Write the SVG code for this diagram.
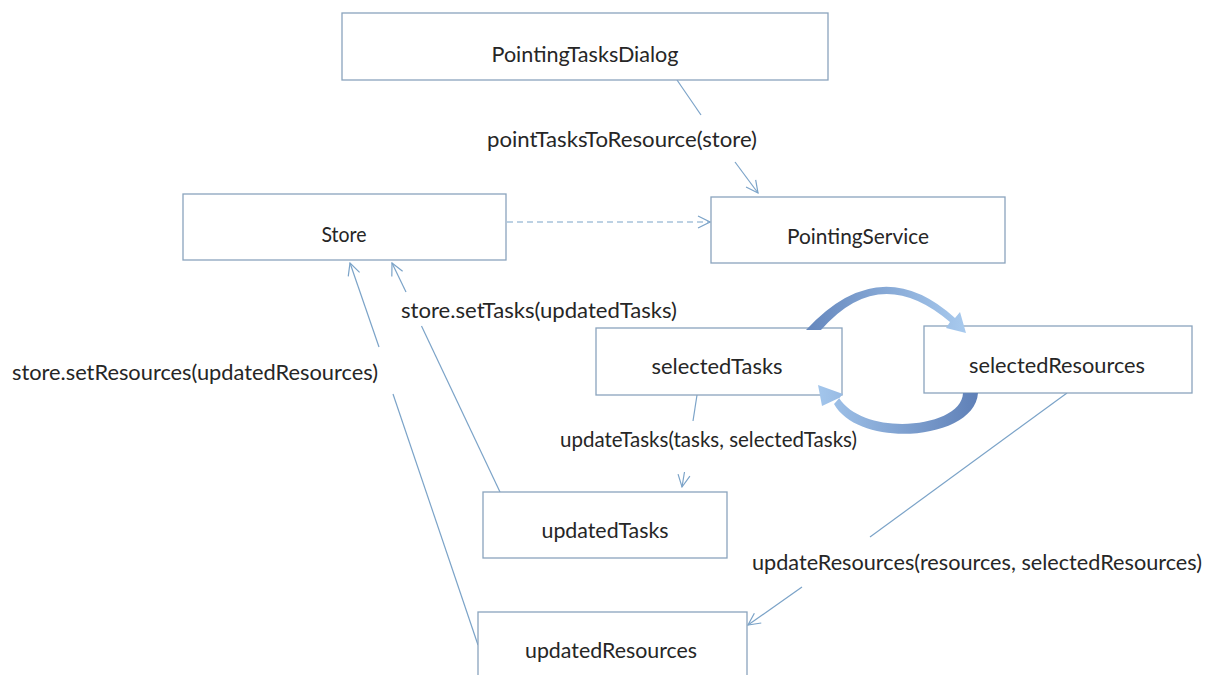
<svg xmlns="http://www.w3.org/2000/svg" width="1219" height="675" viewBox="0 0 1219 675">
<defs>
<style>
.box{fill:#ffffff;stroke:#8aa4bd;stroke-width:1.3}
.lbl{font-family:Lato,"Open Sans","Liberation Sans",sans-serif;font-size:21px;fill:#262626}
.nt{text-anchor:middle}
.con{fill:none;stroke:#7ba3c8;stroke-width:1.2}
.dash{stroke-dasharray:6 4}
</style>
<marker id="arr" markerUnits="userSpaceOnUse" markerWidth="14" markerHeight="14" viewBox="0 0 14 14" refX="13" refY="7" orient="auto">
<path d="M1,1 L13,7 L1,13" fill="none" stroke="#7ba3c8" stroke-width="1.2"/>
</marker>
<linearGradient id="gUp" x1="0" y1="0" x2="1" y2="0">
<stop offset="0" stop-color="#6587bd"/>
<stop offset="1" stop-color="#a8caee"/>
</linearGradient>
<linearGradient id="gLo" x1="1" y1="0" x2="0" y2="0">
<stop offset="0" stop-color="#5f80b7"/>
<stop offset="1" stop-color="#a3c6ec"/>
</linearGradient>
</defs>
<rect width="1219" height="675" fill="#ffffff"/>

<g id="connectors">
<line class="con" x1="677" y1="80" x2="701" y2="115"/>
<line class="con" x1="735" y1="162" x2="758" y2="193" marker-end="url(#arr)"/>
<line class="con dash" x1="507" y1="222" x2="710" y2="222" marker-end="url(#arr)"/>
<line class="con" x1="406" y1="292" x2="392" y2="263" marker-end="url(#arr)"/>
<line class="con" x1="421.5" y1="326" x2="500" y2="492"/>
<line class="con" x1="379" y1="347" x2="350" y2="263" marker-end="url(#arr)"/>
<line class="con" x1="393" y1="394" x2="478" y2="645"/>
<line class="con" x1="697" y1="395" x2="693" y2="421"/>
<line class="con" x1="684.5" y1="472" x2="682" y2="487" marker-end="url(#arr)"/>
<line class="con" x1="1067" y1="393" x2="870" y2="537"/>
<line class="con" x1="802" y1="587" x2="748" y2="625" marker-end="url(#arr)"/>
</g>

<g id="node-pointingTasksDialog">
<rect class="box" x="342" y="13" width="486" height="67"/>
<text class="lbl nt" x="585" y="62" textLength="187" lengthAdjust="spacingAndGlyphs">PointingTasksDialog</text>
</g>
<g id="node-store">
<rect class="box" x="183" y="194" width="323" height="66"/>
<text class="lbl nt" x="344" y="242" textLength="45" lengthAdjust="spacingAndGlyphs">Store</text>
</g>
<g id="node-pointingService">
<rect class="box" x="711" y="197" width="294" height="66"/>
<text class="lbl nt" x="858" y="244" textLength="142" lengthAdjust="spacingAndGlyphs">PointingService</text>
</g>
<g id="node-selectedTasks">
<rect class="box" x="596" y="328" width="246" height="67"/>
<text class="lbl nt" x="717" y="374" textLength="131" lengthAdjust="spacingAndGlyphs">selectedTasks</text>
</g>
<g id="node-selectedResources">
<rect class="box" x="924" y="326" width="268" height="67"/>
<text class="lbl nt" x="1057" y="373" textLength="176" lengthAdjust="spacingAndGlyphs">selectedResources</text>
</g>
<g id="node-updatedTasks">
<rect class="box" x="483" y="492" width="244" height="66"/>
<text class="lbl nt" x="605" y="538" textLength="127" lengthAdjust="spacingAndGlyphs">updatedTasks</text>
</g>
<g id="node-updatedResources">
<rect class="box" x="478" y="612" width="269" height="80"/>
<text class="lbl nt" x="611" y="658" textLength="172" lengthAdjust="spacingAndGlyphs">updatedResources</text>
</g>

<g id="cycle-arrows">
<path d="M806,330 Q880,250 955,318 L960,312 L966,333 L946,328 L950,322 Q880,262 821,330 Z" fill="url(#gUp)"/>
<path d="M978,393 C975,440 860,450 834,404 L843,394 L818,385 L822,406 L839,398 C865,438 962,428 963,393 Z" fill="url(#gLo)"/>
</g>

<g id="labels">
<text class="lbl" x="487" y="147" textLength="270" lengthAdjust="spacingAndGlyphs">pointTasksToResource(store)</text>
<text class="lbl" x="401" y="318" textLength="276" lengthAdjust="spacingAndGlyphs">store.setTasks(updatedTasks)</text>
<text class="lbl" x="12" y="380" textLength="366" lengthAdjust="spacingAndGlyphs">store.setResources(updatedResources)</text>
<text class="lbl" x="560" y="447" textLength="297" lengthAdjust="spacingAndGlyphs">updateTasks(tasks, selectedTasks)</text>
<text class="lbl" x="752" y="570" textLength="450" lengthAdjust="spacingAndGlyphs">updateResources(resources, selectedResources)</text>
</g>
</svg>
